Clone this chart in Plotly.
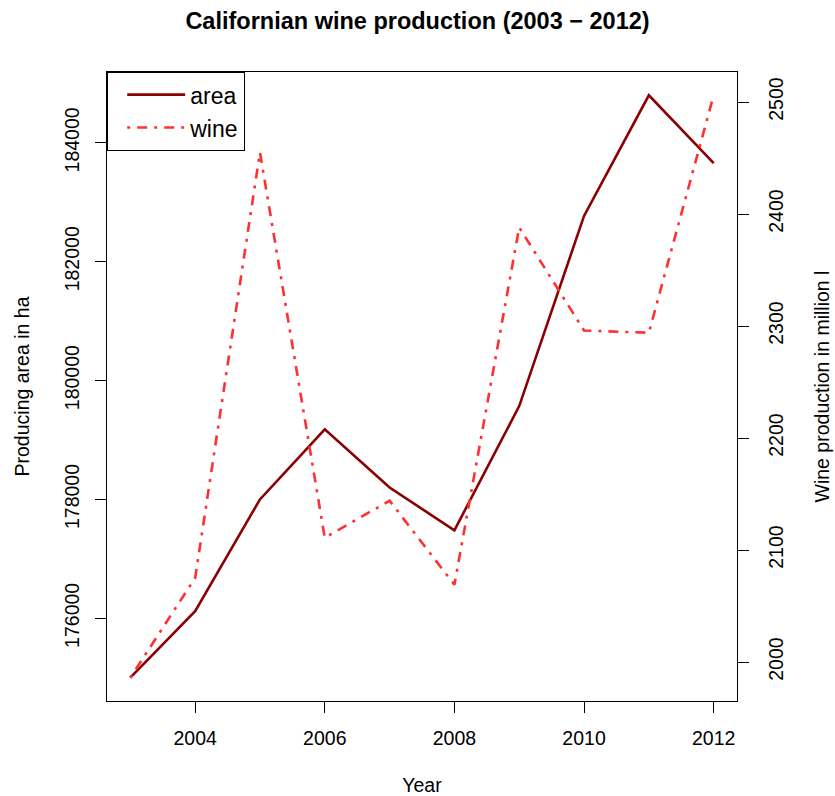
import plotly.graph_objects as go

# Californian wine production, 2003-2012
years = [2003, 2004, 2005, 2006, 2007, 2008, 2009, 2010, 2011, 2012]
area_ha = [175000, 176120, 178000, 179180, 178200, 177480, 179570, 182770, 184800, 183660]
wine_ml = [1986, 2075, 2455, 2111, 2144, 2069, 2388, 2296, 2294, 2506]

x_ticks = [2004, 2006, 2008, 2010, 2012]
area_ticks = [176000, 178000, 180000, 182000, 184000]
wine_ticks = [2000, 2100, 2200, 2300, 2400, 2500]

FONT = "Liberation Sans, Arial, Helvetica, sans-serif"


def padded(values, frac=0.04):
    lo, hi = min(values), max(values)
    pad = (hi - lo) * frac
    return [lo - pad, hi + pad]


fig = go.Figure()
fig.add_trace(go.Scatter(
    x=years, y=area_ha, name="area", mode="lines",
    line=dict(color="#8B0000", width=2.6),
    legendgroup="a",
))
fig.add_trace(go.Scatter(
    x=years, y=wine_ml, name="wine", mode="lines", yaxis="y2",
    line=dict(color="#FF3030", width=2.6, dash="3px,7px,10px,7px"),
    legendgroup="b",
))

axis_common = dict(
    showgrid=False, zeroline=False, automargin=False,
    showline=True, linecolor="black", linewidth=1.2,
    ticks="outside", ticklen=11, tickwidth=1, tickcolor="black",
    tickfont=dict(family=FONT, size=19.5, color="black"),
    title_font=dict(family=FONT, size=19.5, color="black"),
    tickformat="d",
)

fig.update_layout(
    width=835, height=796,
    margin=dict(l=107, r=98, t=72, b=95),
    paper_bgcolor="white", plot_bgcolor="white",
    title=dict(
        text="<b>Californian wine production (2003 \u2212 2012)</b>",
        x=0.5, xref="container", xanchor="center",
        y=1 - 21 / 796, yref="container", yanchor="middle",
        font=dict(family=FONT, size=23.5, color="black"),
    ),
    xaxis=dict(
        axis_common, range=padded(years), tickvals=x_ticks,
        mirror=True, ticklabelstandoff=8,
        title=dict(text="Year", standoff=35),
    ),
    yaxis=dict(
        axis_common, range=padded(area_ha), tickvals=area_ticks,
        tickangle=-90, ticklabelstandoff=8,
        title=dict(text="Producing area in ha", standoff=26),
    ),
    yaxis2=dict(
        axis_common, range=padded(wine_ml), tickvals=wine_ticks,
        overlaying="y", side="right", tickangle=-90, ticklabelstandoff=10,
        title=dict(text="Wine production in million l", standoff=29),
    ),
    showlegend=True,
    legend=dict(
        x=0, y=1, xanchor="left", yanchor="top",
        bgcolor="white", bordercolor="black", borderwidth=1.2,
        font=dict(family=FONT, size=23, color="black"),
        tracegroupgap=0, itemwidth=58, indentation=14,
    ),
)

fig.write_html("out.html")
